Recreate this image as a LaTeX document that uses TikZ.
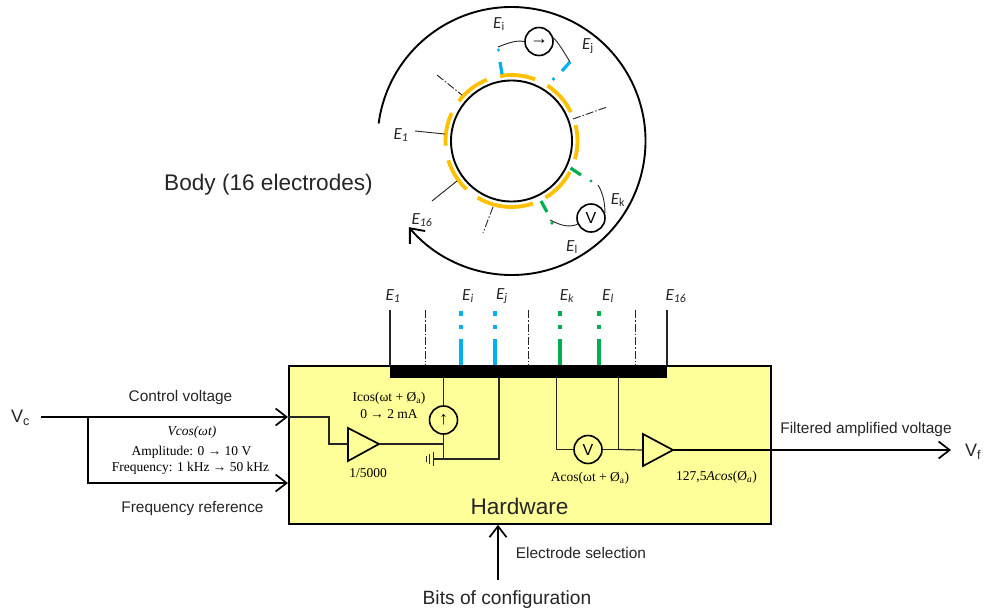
\documentclass[tikz,border=0pt]{standalone}
\usepackage{fontspec}
\setmainfont{Liberation Sans}
\newfontfamily\camb{Liberation Serif}
\newfontfamily\cali{Carlito}
\usetikzlibrary{arrows.meta}
\definecolor{yel}{HTML}{FFC000}
\definecolor{blu}{HTML}{00B0F0}
\definecolor{grn}{HTML}{00B050}
\definecolor{boxy}{HTML}{FFFF99}
\tikzset{
  wire/.style={draw=black!85,line width=1.2pt},
  thinw/.style={draw=black!85,line width=.9pt},
  ddot/.style={draw=black!85,line width=.9pt,dash pattern=on 8pt off 2pt on 1.5pt off 2pt},
  elec/.style={draw=yel,line width=3.8pt},
  bluw/.style={draw=blu,line width=3.2pt},
  grnw/.style={draw=grn,line width=3.2pt},
  meter/.style={circle,draw=black,line width=1.6pt,minimum size=28pt,inner sep=0pt},
  bigarrow/.style={draw=black,line width=1.7pt,-{Straight Barb[length=11pt,width=17pt,line width=1.7pt]}},
  sans/.style={inner sep=0pt,text=black!85,font=\fontsize{15.4}{17}\selectfont},
  big/.style={inner sep=0pt,text=black!85,font=\fontsize{22.6}{26}\selectfont},
  serif/.style={inner sep=0pt,text=black,font=\camb\fontsize{13.5}{15}\selectfont},
  elab/.style={inner sep=0pt,text=black!85,font=\cali\itshape\fontsize{17}{18}\selectfont},
  amp/.style={draw=black,line width=1.7pt,line join=miter},
}
\begin{document}
\begin{tikzpicture}[x=1pt,y=1pt]
\useasboundingbox (0,-611) rectangle (984,0);
\fill[white] (0,-611) rectangle (984,0);
% ---- ring
\coordinate (C) at (511.5,-141);
\draw[draw=black,line width=1.9pt] (C) circle[radius=60.5];
\draw[line width=1.9pt,-{Straight Barb[length=12pt,width=20pt,line width=1.9pt]}]
  ([shift={(172.5:134)}]C) arc[start angle=172.5,end angle=-140,radius=134];
\foreach \a/\b in {100/69,57/26,14/-16,-28/-59,-71/-121,-133/-163,184/155,143/112}
  \draw[elec] ([shift={(\a:66)}]C) arc[start angle=\a,end angle=\b,radius=66];
% ring nodes
\node[meter] (mi) at (539,-41.5) {\camb\fontsize{18}{18}\selectfont →};
\node[meter] (mv) at (591,-218) {\fontsize{16}{16}\selectfont V};
\coordinate (ia) at (502,-74); \coordinate (ib) at (500,-62); \coordinate (id) at (498.5,-50);
\coordinate (ie) at (498,-47);
\coordinate (ja) at (562,-71); \coordinate (jb) at (570,-62); \coordinate (jd) at (553.5,-79);
\coordinate (ka) at (570.5,-168); \coordinate (kb) at (581,-175); \coordinate (kd) at (591,-181); \coordinate (ke) at (598,-185);
\coordinate (la) at (541,-201); \coordinate (lb) at (547,-212); \coordinate (ld) at (552,-223); \coordinate (le) at (550,-220);
\draw[bluw] (ia)--(ib); \draw[bluw] (ja)--(jb);
\fill[blu] (id) circle[radius=1.6]; \fill[blu] (jd) circle[radius=1.8];
\draw[grnw] (ka)--(kb); \draw[grnw] (la)--(lb);
\fill[grn] (kd) circle[radius=1.6]; \fill[grn] (ld) circle[radius=1.8];
\draw[thinw] (ie) .. controls (508,-43) and (516,-40) .. (mi.west);
\draw[thinw] (mi.15) .. controls (558,-42) and (564,-52) .. (jb);
\draw[thinw] (ke) .. controls (603,-193) and (605,-203) .. (mv.20);
\draw[thinw] (le) .. controls (560,-225) and (568,-228) .. (mv.205);
\coordinate (d1a) at (437,-75); \coordinate (d1b) at (462,-95);
\coordinate (d2a) at (573,-119); \coordinate (d2b) at (607,-107);
\coordinate (d3a) at (493,-207); \coordinate (d3b) at (483,-233);
\draw[ddot] (d1a)--(d1b); \draw[ddot] (d2a)--(d2b); \draw[ddot] (d3a)--(d3b);
\coordinate (s1a) at (415,-131); \coordinate (s1b) at (445,-134);
\coordinate (s2a) at (457,-181); \coordinate (s2b) at (432,-201);
\draw[thinw] (s1a)--(s1b); \draw[thinw] (s2a)--(s2b);
% ring labels
\node[elab] (lEi) at (499,-24) {E\textsubscript{\upshape i}};
\node[elab] (lEj) at (588,-46) {E\textsubscript{\upshape j}};
\node[elab] (lEa) at (401,-135) {E\textsubscript{1}};
\node[elab] (lEp) at (422,-220) {E\textsubscript{16}};
\node[elab] (lEk) at (618,-200) {E\textsubscript{\upshape k}};
\node[elab] (lEl) at (572,-247) {E\textsubscript{\upshape l}};
\node[big] (body) at (268.5,-184.5) {Body (16 electrodes)};
% ---- hardware box
\node[draw=black,line width=1.8pt,fill=boxy,minimum width=482pt,minimum height=158pt,inner sep=0pt,anchor=north west] (hw) at (288,-365) {};
\node[fill=black,minimum width=277pt,minimum height=13pt,inner sep=0pt,anchor=north west] (bar) at (390,-365) {};
% top terminals
\foreach \n/\x in {a/390,p/667} {\coordinate (t\n) at (\x,-310); \coordinate (u\n) at (\x,-366); \draw[wire] (t\n)--(u\n);}
\foreach \n/\x in {e/425,f/528,g/635} {\coordinate (t\n) at (\x,-310); \coordinate (u\n) at (\x,-366); \draw[ddot] (t\n)--(u\n);}
\foreach \x/\s in {461/bluw,495/bluw,560/grnw,599/grnw} {
  \draw[\s] (\x,-339)--(\x,-365);
  \draw[\s] (\x,-325)--(\x,-329);
  \draw[\s] (\x,-311)--(\x,-316);
}
\foreach \n/\x/\t in {a/393/{E\textsubscript{1}},b/468/{E\textsubscript{i}},c/502/{E\textsubscript{j}},d/567/{E\textsubscript{k}},h/608/{E\textsubscript{l}},p/676/{E\textsubscript{16}}}
  \node[elab] (ll\n) at (\x,-296) {\t};
% input side
\node[sans,font=\fontsize{18}{19}\selectfont] (vc) at (20.5,-418) {V\textsubscript{c}};
\coordinate (vcs) at (41,-417); \coordinate (br) at (88,-417); \coordinate (brd) at (88,-483);
\draw[bigarrow] (vcs)--(hw.west |- br);
\draw[bigarrow] (br)--(brd)--(hw.west |- brd);
\node[sans] (cv) at (180.5,-397.5) {Control voltage};
\node[serif,font=\camb\itshape\fontsize{13.5}{15}\selectfont] (vcos) at (192,-432.5) {Vcos(ωt)};
\node[serif] (ampl) at (191.5,-452.5) {Amplitude: 0 → 10 V};
\node[serif] (freq) at (190.5,-468) {Frequency: 1 kHz → 50 kHz};
\node[sans] (fr) at (192.5,-508.5) {Frequency reference};
% amp 1
\coordinate (a1l) at (348,-444); \coordinate (a1t) at (379,-444);
\draw[amp] (348,-428)--(348,-461)--(379,-444)--cycle;
\draw[wire] (hw.west |- br) -- (329,-417) -- (329,-444) -- (a1l);
\node[meter] (mi2) at (443.5,-420) {\camb\fontsize{18}{18}\selectfont ↑};
\draw[wire] (a1t) -- (mi2.south |- a1t) -- (mi2.south);
\draw[wire] (mi2.north) -- (mi2.north |- bar.south);
\coordinate (gnd) at (433,-459); \coordinate (rt) at (499,-459);
\draw[wire] (mi2.south |- a1t) -- (mi2.south |- gnd);
\draw[wire] (gnd) -- (rt) -- (rt |- bar.south);
\draw[line width=1pt,draw=black!85] (433,-452)--(433,-466);
\draw[line width=1pt,draw=black!85] (429.5,-454)--(429.5,-464);
\draw[line width=1pt,draw=black!85] (426,-456)--(426,-462);
\node[serif] (ic) at (389,-398) {Icos(ωt + Ø\textsubscript{a})};
\node[serif] (ma) at (389,-414) {0 → 2 mA};
\node[serif] (gain) at (368,-473.5) {1/5000};
% volt meter and amp 2
\node[meter] (mv2) at (588,-449.5) {\fontsize{16}{16}\selectfont V};
\coordinate (vl) at (556.5,-449.5); \coordinate (vr) at (618.5,-449.5);
\draw[wire] (vl |- bar.south) -- (vl) -- (mv2.west);
\draw[wire] (vr |- bar.south) -- (vr) -- (mv2.east);
\coordinate (a2l) at (643,-450); \coordinate (a2t) at (673,-450);
\draw[wire] (vr) -- (a2l);
\draw[amp] (643,-434)--(643,-466)--(673,-450)--cycle;
\node[sans,font=\fontsize{18}{19}\selectfont] (vf) at (973,-452) {V\textsubscript{f}};
\coordinate (ve) at (951,-450);
\draw[line width=1.3pt,draw=black,-{Straight Barb[length=11pt,width=17pt,line width=1.7pt]}] (a2t)--(ve);
\node[serif] (ac) at (590,-478.5) {Acos(ωt + Ø\textsubscript{a})};
\node[serif] (oc) at (716.5,-477.5) {127,5\textit{Acos}(Ø\textsubscript{\textit{a}})};
\node[sans] (fa) at (866,-429.5) {Filtered amplified voltage};
% bottom
\node[big] (hwt) at (519.5,-506) {Hardware};
\node[sans] (es) at (581,-552.5) {Electrode selection};
\node[sans,font=\fontsize{19.2}{22}\selectfont] (bits) at (507,-600) {Bits of configuration};
\coordinate (bs) at (498,-580);
\draw[bigarrow] (bs) -- (bs |- hw.south);
\end{tikzpicture}
\end{document}
